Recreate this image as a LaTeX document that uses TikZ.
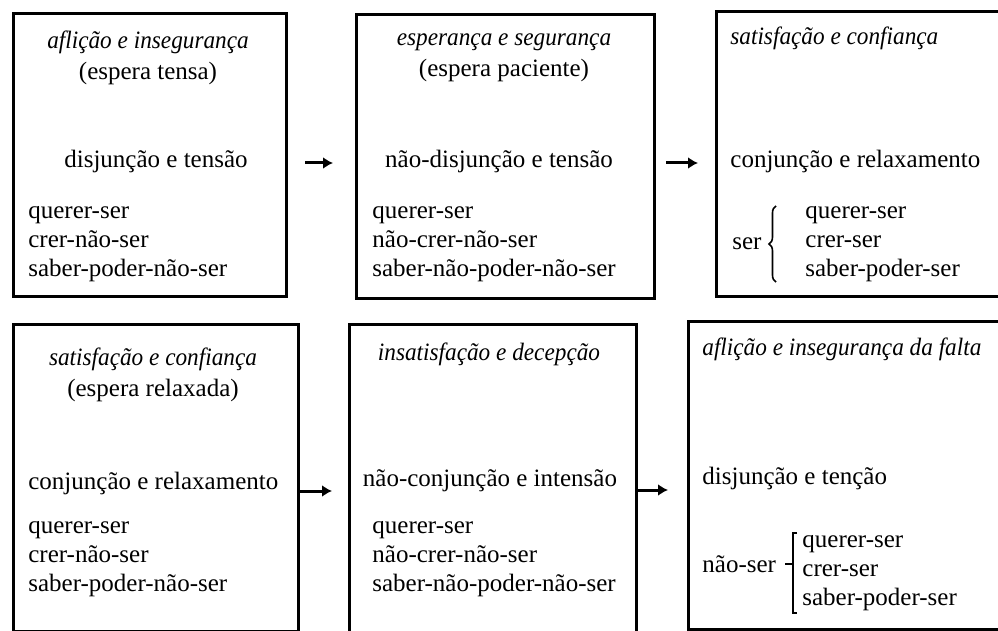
\documentclass[tikz,border=0pt]{standalone}
\usepackage{fontspec}
\setmainfont{Liberation Serif}[ItalicFeatures={FakeStretch=0.93}]
\usetikzlibrary{arrows.meta,positioning,decorations.pathreplacing}

\begin{document}
\begin{tikzpicture}[x=0.5pt, y=-0.5pt,
  box/.style={draw, line width=1.7pt, anchor=north west, inner sep=0pt},
  txt/.style={inner sep=0pt, font=\fontsize{12.5}{14.5}\selectfont},
  lst/.style={txt, align=left, anchor=west},
  ttl/.style={inner sep=0pt, align=center, font=\fontsize{12.5}{15.5}\selectfont},
  arr/.style={-{Latex[length=5pt, width=6pt]}, line width=1.5pt},
  brc/.style={decorate, decoration={brace, amplitude=3.5pt}, line width=0.8pt},
  brk/.style={line width=0.8pt}]
\useasboundingbox (0,0) rectangle (998,631);
% top row
\node[box, minimum width=136.5pt, minimum height=141.5pt] (b1) at (12,12) {};
\node[box, minimum width=149pt, minimum height=142pt] (b2) at (355,13) {};
\node[box, minimum width=150pt, minimum height=142.5pt] (b3) at (715,10) {};
\node[ttl] (t1) at (148,58) {\itshape aflição e insegurança\\(espera tensa)};
\node[ttl] (t2) at (504,58) {\itshape esperança e segurança\\(espera paciente)};
\node[txt, anchor=west] (t3) at (730,38) {\itshape satisfação e confiança};
\node[txt] (m1) at (156,161) {disjunção e tensão};
\node[txt] (m2) at (499,161) {não-disjunção e tensão};
\node[txt, anchor=west] (m3) at (730,161) {conjunção e relaxamento};
\node[lst] (l1) at (28,244) {querer-ser\\crer-não-ser\\saber-poder-não-ser};
\node[lst] (l2) at (372,244) {querer-ser\\não-crer-não-ser\\saber-não-poder-não-ser};
\node[txt, anchor=west] (s3) at (732,244) {ser};
\node[lst] (l3) at (805,244) {querer-ser\\crer-ser\\saber-poder-ser};
\draw[brc] ([xshift=-14.5pt]l3.south west) -- ([xshift=-14.5pt]l3.north west);
\draw[arr, shorten <=8.5pt, shorten >=11pt] ([yshift=-1pt]m1.east -| b1.east) -- ([yshift=-1pt]m1.east -| b2.west);
\draw[arr, shorten <=5pt, shorten >=8.5pt] ([yshift=-1pt]m2.east -| b2.east) -- ([yshift=-1pt]m2.east -| b3.west);
% bottom row
\node[box, minimum width=142.5pt, minimum height=153.5pt] (b4) at (12,323) {};
\node[box, minimum width=143.5pt, minimum height=160pt] (b5) at (348,323) {};
\node[box, minimum width=160pt, minimum height=154pt] (b6) at (687,320) {};
\node[ttl] (t4) at (153,375) {\itshape satisfação e confiança\\(espera relaxada)};
\node[txt] (t5) at (489,354) {\itshape insatisfação e decepção};
\node[txt, anchor=west] (t6) at (702,349) {\itshape aflição e insegurança da falta};
\node[txt, anchor=west] (m4) at (28,483) {conjunção e relaxamento};
\node[txt] (m5) at (490,481) {não-conjunção e intensão};
\node[txt, anchor=west] (m6) at (702,478) {disjunção e tenção};
\node[lst] (l4) at (28,559) {querer-ser\\crer-não-ser\\saber-poder-não-ser};
\node[lst] (l5) at (372,559) {querer-ser\\não-crer-não-ser\\saber-não-poder-não-ser};
\node[txt, anchor=west] (s6) at (702,564) {não-ser};
\node[lst] (l6) at (802,573) {querer-ser\\crer-ser\\saber-poder-ser};
\draw[brk] ([xshift=-2.5pt,yshift=1pt]l6.north west) -| ([xshift=-4.5pt]l6.west) |- ([xshift=-2.5pt,yshift=-1pt]l6.south west);
\draw[brk] ([xshift=-4.5pt]l6.west |- s6) -- ++(-8,0);
\draw[arr, shorten >=8pt] ([yshift=-4pt]m4.east -| b4.east) -- ([yshift=-4pt]m4.east -| b5.west);
\draw[arr, shorten >=9.5pt] ([yshift=-4.5pt]m5.east -| b5.east) -- ([yshift=-4.5pt]m5.east -| b6.west);
\end{tikzpicture}
\end{document}
